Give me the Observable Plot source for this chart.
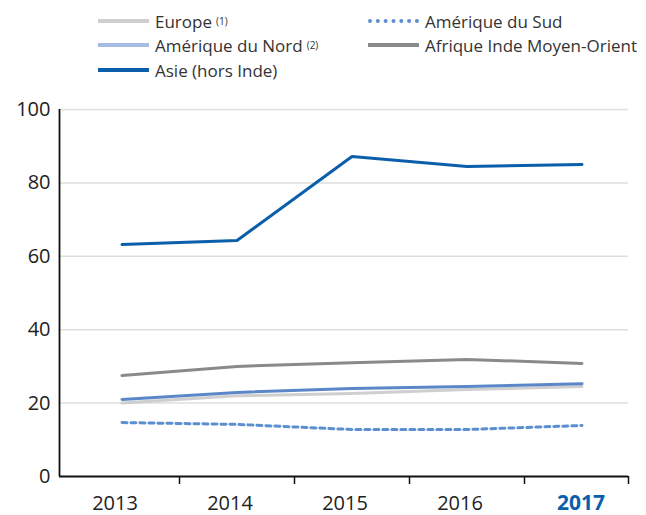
<!DOCTYPE html>
<html><head><meta charset="utf-8">
<script src="https://cdn.jsdelivr.net/npm/d3@7"></script>
<script src="https://cdn.jsdelivr.net/npm/@observablehq/plot@0.6"></script>
<style>
body{margin:0;background:#fff;font-family:"Open Sans",sans-serif;}
#legend{position:relative;width:646px;height:84px;font-size:17px;color:#333;}
.item{position:absolute;display:flex;align-items:center;white-space:nowrap;height:22px;}
.sw{display:inline-block;width:51px;height:0;margin-right:6px;}
sup{font-size:10px;vertical-align:8px;margin-left:4px;}
#chart svg{display:block;}
</style></head><body>
<div id="legend"></div>
<div id="chart"></div>
<script>
const years = [2013, 2014, 2015, 2016, 2017];
const europe = [20.0, 22.0, 22.6, 23.7, 24.5];
const ameriqueNord = [21.0, 22.9, 24.0, 24.5, 25.3];
const ameriqueSud = [14.7, 14.2, 12.8, 12.8, 13.9];
const afrique = [27.5, 30.0, 31.0, 31.9, 30.8];
const asie = [63.2, 64.3, 87.2, 84.5, 85.0];
const yTicks = [0, 20, 40, 60, 80, 100];

const seriesNames = ["Europe", "Amérique du Sud", "Amérique du Nord", "Afrique Inde Moyen-Orient", "Asie (hors Inde)"];
const seriesValues = [europe, ameriqueSud, ameriqueNord, afrique, asie];
const colors = {"Europe":"#cfcfcf","Amérique du Sud":"#5b8fd0","Amérique du Nord":"#5b87c8","Afrique Inde Moyen-Orient":"#8a8a8a","Asie (hors Inde)":"#0b5faa"};

const rows = [];
seriesNames.forEach((s, i) => years.forEach((y, j) => rows.push({series: s, year: y, value: seriesValues[i][j]})));

// legend
const legendItems = [
  {name:"Europe", sup:"(1)", left:98, top:10, style:"border-top:4px solid #cfcfcf"},
  {name:"Amérique du Nord", sup:"(2)", left:98, top:34, style:"border-top:4px solid #a6bde3"},
  {name:"Asie (hors Inde)", left:98, top:59, style:"border-top:4px solid #0b5faa"},
  {name:"Amérique du Sud", left:368, top:10, style:"border-top:4px dotted #5b8fd0"},
  {name:"Afrique Inde Moyen-Orient", left:368, top:34, style:"border-top:4px solid #8a8a8a"}
];
const lg = document.getElementById("legend");
legendItems.forEach(it => {
  const d = document.createElement("div");
  d.className = "item";
  d.style.left = it.left + "px"; d.style.top = it.top + "px";
  d.innerHTML = `<span class="sw" style="${it.style}"></span><span>${it.name}</span>` + (it.sup ? `<sup>${it.sup}</sup>` : "");
  lg.appendChild(d);
});

const pxToYear = px => 2012.5 + (px - 64) / 115;
const xStart = pxToYear(59), xEnd = pxToYear(628);
const boundaryTicks = [2013.5, 2014.5, 2015.5, 2016.5, xEnd];
const lastYear = years[years.length - 1];

const chart = Plot.plot({
  width: 646, height: 431,
  marginLeft: 64, marginRight: 7, marginTop: 25, marginBottom: 39,
  style: {fontFamily: "'Open Sans', sans-serif", background: "#fff"},
  x: {domain: [2012.5, 2017.5], axis: null},
  y: {domain: [0, 100], axis: null},
  marks: [
    Plot.ruleY(yTicks.filter(d => d > 0), {y: d => d, x1: xStart, x2: xEnd, stroke: "#dedede", strokeWidth: 1.5}),
    Plot.text(yTicks, {x: xStart, y: d => d, text: d => String(d), textAnchor: "end", dx: -9, fontSize: 20, fill: "#222"}),
    Plot.ruleX(boundaryTicks, {x: d => d, y1: 0, y2: -8 / 3.67, stroke: "#111", strokeWidth: 1.5}),
    ...seriesNames.map(s => Plot.line(rows.filter(r => r.series === s), {
      x: "year", y: "value", stroke: colors[s], strokeWidth: 3,
      strokeDasharray: s === "Amérique du Sud" ? "5,4" : null
    })),
    Plot.ruleY([0], {x1: xStart, x2: xEnd, stroke: "#111", strokeWidth: 1.8}),
    Plot.ruleX([xStart], {y1: 0, y2: 100, stroke: "#111", strokeWidth: 1.8}),
    Plot.text(years.filter(d => d !== lastYear), {x: d => d, y: () => 0, dy: 27, dx: -7, text: d => String(d),
      fontSize: 20, fill: "#222"}),
    Plot.text([lastYear], {x: d => d, y: () => 0, dy: 27, dx: -1, text: d => String(d),
      fontSize: 21, fill: "#0b5faa", fontWeight: "bold"})
  ]
});
document.getElementById("chart").appendChild(chart);
</script>
</body></html>
